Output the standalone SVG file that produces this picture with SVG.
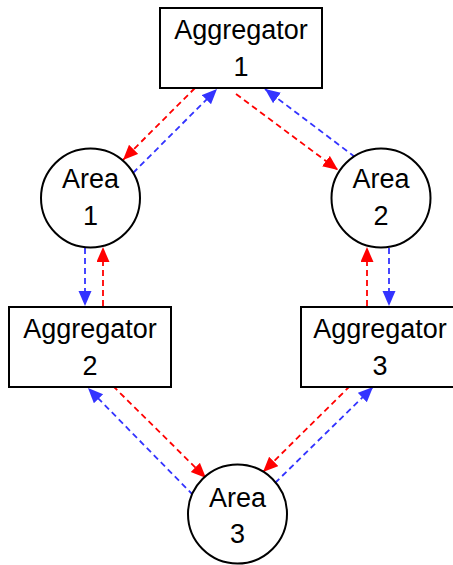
<svg xmlns="http://www.w3.org/2000/svg" width="453" height="565" viewBox="0 0 453 565">
  <style>
    .box { fill: #ffffff; stroke: #000000; stroke-width: 2; }
    .area { fill: #ffffff; stroke: #000000; stroke-width: 2; }
    .lbl { font-family: "Liberation Sans", Arial, sans-serif; font-size: 27px; fill: #000000; text-anchor: middle; }
    .red { fill: none; stroke: #ff0000; stroke-width: 1.8; stroke-dasharray: 6 4; marker-end: url(#ahRed); }
    .blue { fill: none; stroke: #3333ff; stroke-width: 1.8; stroke-dasharray: 6 4; marker-end: url(#ahBlue); }
  </style>
  <defs>
    <marker id="ahRed" markerUnits="userSpaceOnUse" markerWidth="16" markerHeight="14" refX="15" refY="6.5" orient="auto">
      <path d="M0,0 L15,6.5 L0,13 Z" fill="#ff0000"/>
    </marker>
    <marker id="ahBlue" markerUnits="userSpaceOnUse" markerWidth="16" markerHeight="14" refX="15" refY="6.5" orient="auto">
      <path d="M0,0 L15,6.5 L0,13 Z" fill="#3333ff"/>
    </marker>
  </defs>

  <rect width="453" height="565" fill="#ffffff"/>

  <!-- Connectors -->
  <g id="connectors">
    <!-- Aggregator 1 <-> Area 1 -->
    <line class="red" x1="195" y1="88" x2="123" y2="160"/>
    <line class="blue" x1="133" y1="173" x2="217" y2="89"/>
    <!-- Aggregator 1 <-> Area 2 -->
    <line class="red" x1="236" y1="94" x2="338" y2="170"/>
    <line class="blue" x1="355" y1="157" x2="265" y2="89"/>
    <!-- Area 1 <-> Aggregator 2 -->
    <line class="blue" x1="85" y1="248" x2="85" y2="306"/>
    <line class="red" x1="103" y1="306" x2="103" y2="247"/>
    <!-- Area 2 <-> Aggregator 3 -->
    <line class="red" x1="367" y1="306" x2="367" y2="247"/>
    <line class="blue" x1="389" y1="248" x2="389" y2="306"/>
    <!-- Aggregator 2 <-> Area 3 -->
    <line class="red" x1="113" y1="386" x2="206" y2="478"/>
    <line class="blue" x1="193" y1="495" x2="88" y2="388"/>
    <!-- Aggregator 3 <-> Area 3 -->
    <line class="red" x1="350" y1="386" x2="263" y2="472"/>
    <line class="blue" x1="275" y1="483" x2="373" y2="387"/>
  </g>

  <!-- Nodes -->
  <g id="aggregator1">
    <rect class="box" x="160" y="8" width="162" height="80"/>
    <text class="lbl" x="241" y="39">Aggregator</text>
    <text class="lbl" x="241" y="76">1</text>
  </g>

  <g id="area1">
    <circle class="area" cx="90.5" cy="198" r="49.5"/>
    <text class="lbl" x="90.5" y="188">Area</text>
    <text class="lbl" x="90.5" y="225">1</text>
  </g>

  <g id="area2">
    <circle class="area" cx="381" cy="198" r="49.5"/>
    <text class="lbl" x="381" y="188">Area</text>
    <text class="lbl" x="381" y="225">2</text>
  </g>

  <g id="aggregator2">
    <rect class="box" x="9" y="307" width="162" height="80"/>
    <text class="lbl" x="90" y="338">Aggregator</text>
    <text class="lbl" x="90" y="375">2</text>
  </g>

  <g id="aggregator3">
    <rect class="box" x="301" y="307" width="162" height="80"/>
    <text class="lbl" x="380" y="338">Aggregator</text>
    <text class="lbl" x="380" y="375">3</text>
  </g>

  <g id="area3">
    <circle class="area" cx="237.5" cy="514" r="49.5"/>
    <text class="lbl" x="237.5" y="507">Area</text>
    <text class="lbl" x="237.5" y="543">3</text>
  </g>
</svg>
